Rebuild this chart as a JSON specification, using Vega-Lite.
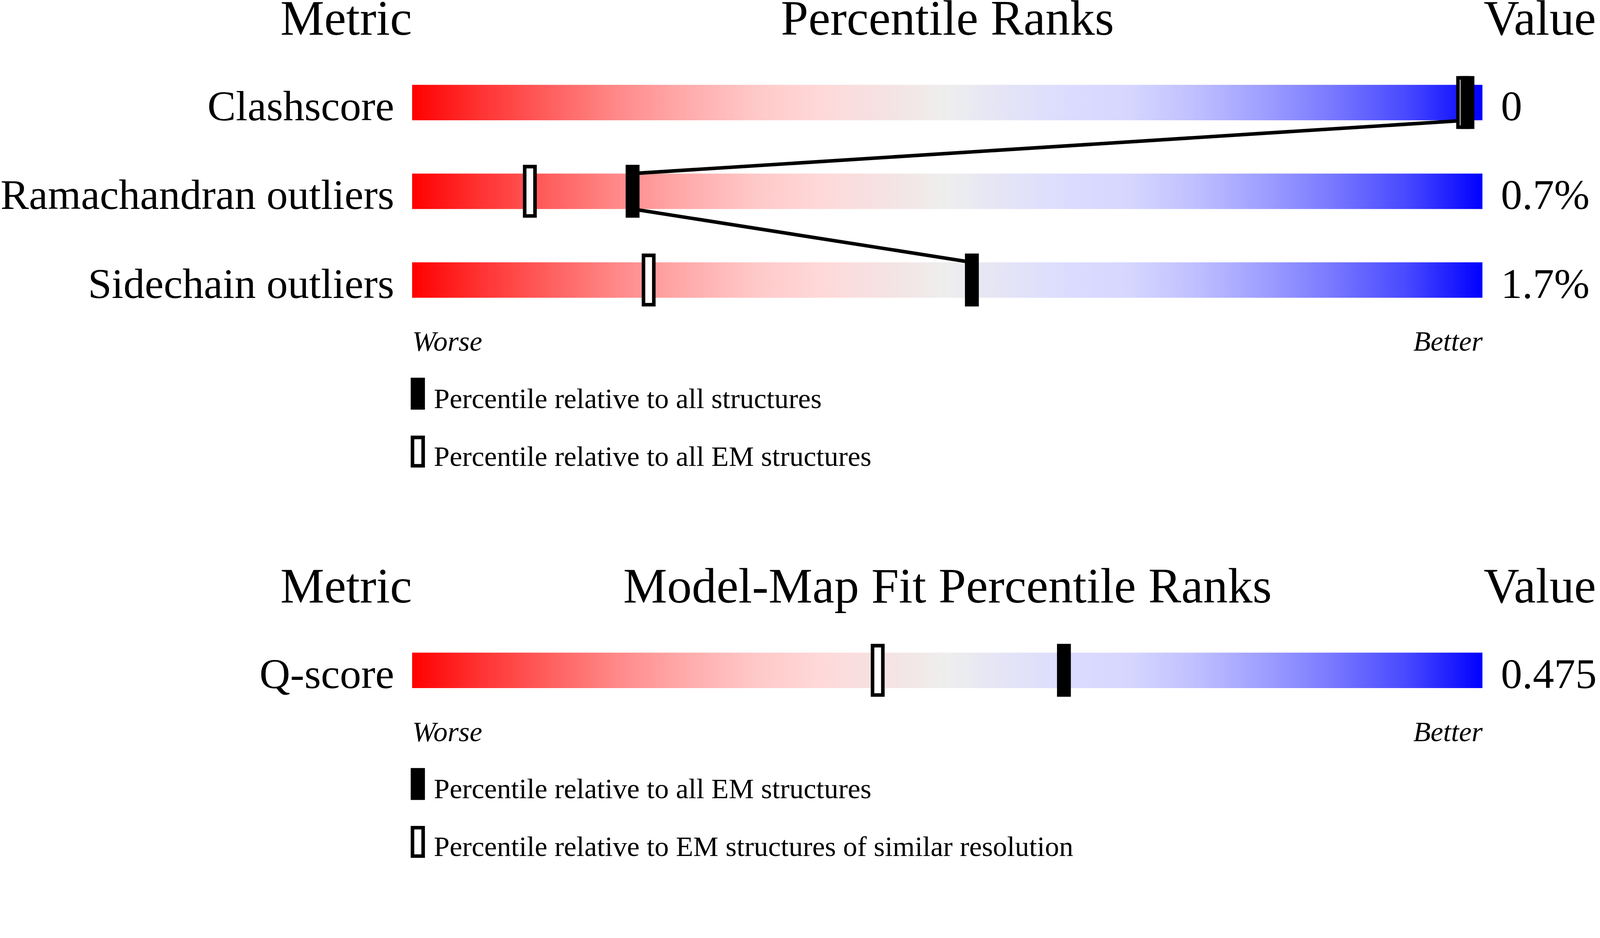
{
  "$schema": "https://vega.github.io/schema/vega-lite/v6.json",
  "background": "white",
  "padding": {"top": -12.6, "left": 0, "right": 0, "bottom": 0},
  "spacing": 229,
  "config": {
    "view": {"stroke": null},
    "font": "Liberation Serif",
    "axis": {"grid": false}
  },
  "datasets": {
    "metrics_validation": [
      {"metric": "Clashscore", "value": "0"},
      {"metric": "Ramachandran outliers", "value": "0.7%"},
      {"metric": "Sidechain outliers", "value": "1.7%"}
    ],
    "ranks_validation": [
      {"metric": "Clashscore", "reference": "Percentile relative to all EM structures", "percentile": 98.2},
      {"metric": "Ramachandran outliers", "reference": "Percentile relative to all EM structures", "percentile": 11.0},
      {"metric": "Sidechain outliers", "reference": "Percentile relative to all EM structures", "percentile": 22.1},
      {"metric": "Clashscore", "reference": "Percentile relative to all structures", "percentile": 98.6},
      {"metric": "Ramachandran outliers", "reference": "Percentile relative to all structures", "percentile": 20.6},
      {"metric": "Sidechain outliers", "reference": "Percentile relative to all structures", "percentile": 52.3}
    ],
    "metrics_fit": [
      {"metric": "Q-score", "value": "0.475"}
    ],
    "ranks_fit": [
      {"metric": "Q-score", "reference": "Percentile relative to EM structures of similar resolution", "percentile": 43.5},
      {"metric": "Q-score", "reference": "Percentile relative to all EM structures", "percentile": 60.9}
    ]
  },
  "vconcat": [
    {
      "width": 2740,
      "height": 590.9,
      "layer": [
        {
          "data": {"name": "metrics_validation"},
          "mark": {
            "type": "rect",
            "fill": {
              "gradient": "linear", "x1": 0, "x2": 1, "y1": 0, "y2": 0,
              "stops": [
                {"offset": 0.0, "color": "#ff0000"},
                {"offset": 0.06, "color": "#ff3030"},
                {"offset": 0.13, "color": "#ff6060"},
                {"offset": 0.19, "color": "#ff8888"},
                {"offset": 0.25, "color": "#ffa8a8"},
                {"offset": 0.32, "color": "#ffc8c8"},
                {"offset": 0.38, "color": "#ffd8d8"},
                {"offset": 0.45, "color": "#f4e4e4"},
                {"offset": 0.5, "color": "#eeeeee"},
                {"offset": 0.54, "color": "#e6e6f4"},
                {"offset": 0.61, "color": "#dcdcff"},
                {"offset": 0.67, "color": "#d6d6ff"},
                {"offset": 0.73, "color": "#c0c0ff"},
                {"offset": 0.8, "color": "#9c9cff"},
                {"offset": 0.86, "color": "#7878ff"},
                {"offset": 0.93, "color": "#4848ff"},
                {"offset": 1.0, "color": "#0000ff"}
              ]
            }
          },
          "encoding": {
            "x": {
              "datum": 0, "type": "quantitative",
              "scale": {"domain": [0, 100], "nice": false, "zero": false},
              "axis": {
                "orient": "bottom", "title": null, "values": [0, 100],
                "labelExpr": "datum.value == 0 ? 'Worse' : 'Better'",
                "labelFlush": true, "labelFontStyle": "italic", "labelFontSize": 72.7,
                "labelFont": "Liberation Serif", "labelColor": "black", "labelLimit": 1000,
                "labelBaseline": "alphabetic", "labelPadding": 112.7,
                "ticks": false, "tickSize": 0, "domain": false, "grid": false
              }
            },
            "x2": {"datum": 100},
            "y": {
              "field": "metric", "type": "nominal", "sort": null,
              "scale": {"paddingInner": 0.6, "paddingOuter": 0.1},
              "axis": {
                "orient": "left", "title": "Metric", "titleAngle": 0, "titleAlign": "right",
                "titleBaseline": "alphabetic", "titleX": -1, "titleY": -105.5,
                "titleFontSize": 126.4, "titleFont": "Liberation Serif", "titleFontWeight": "normal",
                "titleColor": "black", "titleLimit": 4000,
                "labelFontSize": 109, "labelFont": "Liberation Serif", "labelColor": "black",
                "labelLimit": 4000, "labelPadding": 46.4, "labelBaseline": "alphabetic", "labelOffset": 45.5,
                "ticks": false, "tickSize": 0, "domain": false, "grid": false
              }
            }
          }
        },
        {
          "data": {"name": "ranks_validation"},
          "transform": [
            {"filter": "datum.reference == 'Percentile relative to all structures'"},
            {"window": [
              {"op": "lead", "field": "percentile", "as": "next_percentile"},
              {"op": "lead", "field": "metric", "as": "next_metric"}
            ]},
            {"filter": "datum.next_metric != null"}
          ],
          "mark": {"type": "rule", "strokeWidth": 9.1, "color": "black"},
          "encoding": {
            "x": {"field": "percentile", "type": "quantitative", "axis": null},
            "x2": {"field": "next_percentile"},
            "y": {"field": "metric", "type": "nominal", "sort": null, "bandPosition": 1, "axis": null},
            "y2": {"field": "next_metric", "bandPosition": 0}
          }
        },
        {
          "data": {"name": "ranks_validation"},
          "mark": {"type": "tick", "thickness": 26.4, "size": 126.4, "stroke": "black", "strokeWidth": 9.1, "opacity": 1},
          "encoding": {
            "x": {
              "field": "percentile", "type": "quantitative",
              "axis": {
                "orient": "top", "title": "Percentile Ranks", "labels": false, "ticks": false,
                "tickSize": 0, "domain": false, "grid": false,
                "titleFontSize": 126.4, "titleFont": "Liberation Serif", "titleFontWeight": "normal",
                "titleColor": "black", "titleAlign": "center", "titleBaseline": "alphabetic",
                "titleX": 1370, "titleY": -105.5, "titleLimit": 4000
              }
            },
            "y": {"field": "metric", "type": "nominal", "sort": null, "axis": null},
            "fill": {
              "field": "reference", "type": "nominal",
              "scale": {
                "domain": ["Percentile relative to all structures", "Percentile relative to all EM structures"],
                "range": ["black", "white"]
              },
              "legend": {
                "orient": "none", "legendX": -26.4, "legendY": 787.3, "title": null, "direction": "vertical",
                "symbolType": "M-0.375,-1.4H0.375V0.6H-0.375Z", "symbolSize": 5289,
                "symbolStrokeColor": "black", "symbolStrokeWidth": 9.1,
                "labelFontSize": 72.7, "labelFont": "Liberation Serif", "labelColor": "black",
                "labelLimit": 4000, "labelOffset": 0, "rowPadding": 37.3, "padding": 0
              }
            }
          }
        },
        {
          "data": {"name": "metrics_validation"},
          "mark": {"type": "text", "align": "left", "baseline": "alphabetic", "dx": 47.3, "dy": 45.5, "fontSize": 109, "font": "Liberation Serif", "color": "black"},
          "encoding": {
            "x": {"datum": 100, "type": "quantitative", "axis": null},
            "y": {
              "field": "metric", "type": "nominal", "sort": null,
              "axis": {
                "orient": "right", "title": "Value", "labels": false, "ticks": false, "tickSize": 0,
                "domain": false, "grid": false, "titleAngle": 0, "titleAlign": "left",
                "titleBaseline": "alphabetic", "titleX": 2.7, "titleY": -105.5,
                "titleFontSize": 126.4, "titleFont": "Liberation Serif", "titleFontWeight": "normal",
                "titleColor": "black", "titleLimit": 4000
              }
            },
            "text": {"field": "value", "type": "nominal"}
          }
        }
      ],
      "resolve": {"axis": {"x": "independent", "y": "independent"}}
    },
    {
      "width": 2740,
      "height": 136.4,
      "layer": [
        {
          "data": {"name": "metrics_fit"},
          "mark": {
            "type": "rect",
            "fill": {
              "gradient": "linear", "x1": 0, "x2": 1, "y1": 0, "y2": 0,
              "stops": [
                {"offset": 0.0, "color": "#ff0000"},
                {"offset": 0.06, "color": "#ff3030"},
                {"offset": 0.13, "color": "#ff6060"},
                {"offset": 0.19, "color": "#ff8888"},
                {"offset": 0.25, "color": "#ffa8a8"},
                {"offset": 0.32, "color": "#ffc8c8"},
                {"offset": 0.38, "color": "#ffd8d8"},
                {"offset": 0.45, "color": "#f4e4e4"},
                {"offset": 0.5, "color": "#eeeeee"},
                {"offset": 0.54, "color": "#e6e6f4"},
                {"offset": 0.61, "color": "#dcdcff"},
                {"offset": 0.67, "color": "#d6d6ff"},
                {"offset": 0.73, "color": "#c0c0ff"},
                {"offset": 0.8, "color": "#9c9cff"},
                {"offset": 0.86, "color": "#7878ff"},
                {"offset": 0.93, "color": "#4848ff"},
                {"offset": 1.0, "color": "#0000ff"}
              ]
            }
          },
          "encoding": {
            "x": {
              "datum": 0, "type": "quantitative",
              "scale": {"domain": [0, 100], "nice": false, "zero": false},
              "axis": {
                "orient": "bottom", "title": null, "values": [0, 100],
                "labelExpr": "datum.value == 0 ? 'Worse' : 'Better'",
                "labelFlush": true, "labelFontStyle": "italic", "labelFontSize": 72.7,
                "labelFont": "Liberation Serif", "labelColor": "black", "labelLimit": 1000,
                "labelBaseline": "alphabetic", "labelPadding": 112.7,
                "ticks": false, "tickSize": 0, "domain": false, "grid": false
              }
            },
            "x2": {"datum": 100},
            "y": {
              "field": "metric", "type": "nominal", "sort": null,
              "scale": {"paddingInner": 0.6, "paddingOuter": 0.1},
              "axis": {
                "orient": "left", "title": "Metric", "titleAngle": 0, "titleAlign": "right",
                "titleBaseline": "alphabetic", "titleX": -1, "titleY": -105.5,
                "titleFontSize": 126.4, "titleFont": "Liberation Serif", "titleFontWeight": "normal",
                "titleColor": "black", "titleLimit": 4000,
                "labelFontSize": 109, "labelFont": "Liberation Serif", "labelColor": "black",
                "labelLimit": 4000, "labelPadding": 46.4, "labelBaseline": "alphabetic", "labelOffset": 45.5,
                "ticks": false, "tickSize": 0, "domain": false, "grid": false
              }
            }
          }
        },
        {
          "data": {"name": "ranks_fit"},
          "mark": {"type": "tick", "thickness": 26.4, "size": 126.4, "stroke": "black", "strokeWidth": 9.1, "opacity": 1},
          "encoding": {
            "x": {
              "field": "percentile", "type": "quantitative",
              "axis": {
                "orient": "top", "title": "Model-Map Fit Percentile Ranks", "labels": false, "ticks": false,
                "tickSize": 0, "domain": false, "grid": false,
                "titleFontSize": 126.4, "titleFont": "Liberation Serif", "titleFontWeight": "normal",
                "titleColor": "black", "titleAlign": "center", "titleBaseline": "alphabetic",
                "titleX": 1370, "titleY": -105.5, "titleLimit": 4000
              }
            },
            "y": {"field": "metric", "type": "nominal", "sort": null, "axis": null},
            "fill": {
              "field": "reference", "type": "nominal",
              "scale": {
                "domain": ["Percentile relative to all EM structures", "Percentile relative to EM structures of similar resolution"],
                "range": ["black", "white"]
              },
              "legend": {
                "orient": "none", "legendX": -26.4, "legendY": 332.7, "title": null, "direction": "vertical",
                "symbolType": "M-0.375,-1.4H0.375V0.6H-0.375Z", "symbolSize": 5289,
                "symbolStrokeColor": "black", "symbolStrokeWidth": 9.1,
                "labelFontSize": 72.7, "labelFont": "Liberation Serif", "labelColor": "black",
                "labelLimit": 4000, "labelOffset": 0, "rowPadding": 37.3, "padding": 0
              }
            }
          }
        },
        {
          "data": {"name": "metrics_fit"},
          "mark": {"type": "text", "align": "left", "baseline": "alphabetic", "dx": 47.3, "dy": 45.5, "fontSize": 109, "font": "Liberation Serif", "color": "black"},
          "encoding": {
            "x": {"datum": 100, "type": "quantitative", "axis": null},
            "y": {
              "field": "metric", "type": "nominal", "sort": null,
              "axis": {
                "orient": "right", "title": "Value", "labels": false, "ticks": false, "tickSize": 0,
                "domain": false, "grid": false, "titleAngle": 0, "titleAlign": "left",
                "titleBaseline": "alphabetic", "titleX": 2.7, "titleY": -105.5,
                "titleFontSize": 126.4, "titleFont": "Liberation Serif", "titleFontWeight": "normal",
                "titleColor": "black", "titleLimit": 4000
              }
            },
            "text": {"field": "value", "type": "nominal"}
          }
        }
      ],
      "resolve": {"axis": {"x": "independent", "y": "independent"}}
    }
  ],
  "resolve": {
    "scale": {"fill": "independent", "x": "independent", "y": "independent"},
    "legend": {"fill": "independent"}
  }
}
